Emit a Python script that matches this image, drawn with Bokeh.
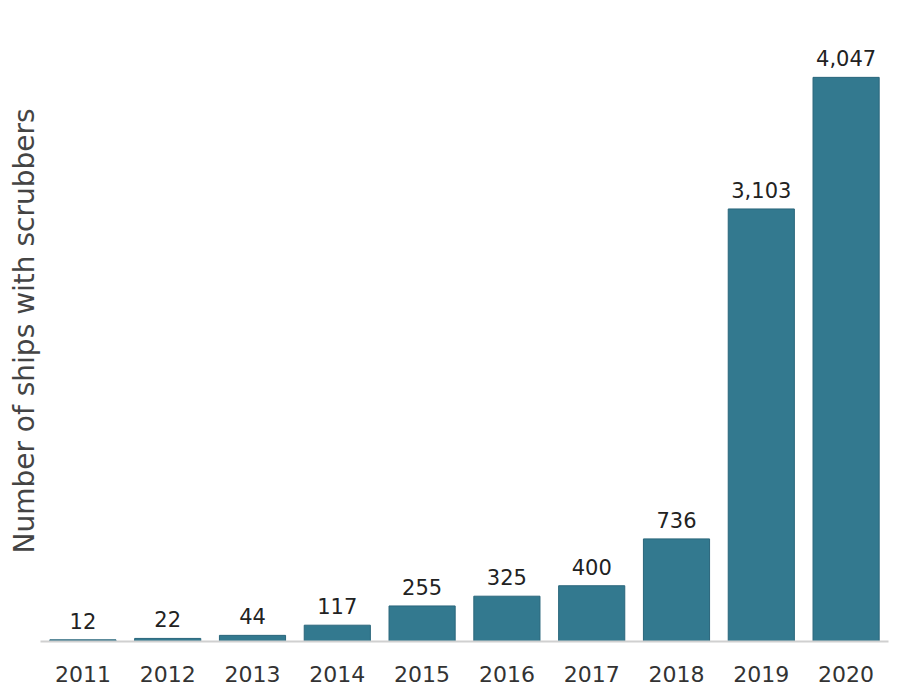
from bokeh.plotting import figure
from bokeh.models import ColumnDataSource, Range1d, FixedTicker
from bokeh.core.properties import value
from bokeh.embed import file_html
from bokeh.resources import INLINE

years = ["2011", "2012", "2013", "2014", "2015", "2016", "2017", "2018", "2019", "2020"]
ships = [12, 22, 44, 117, 255, 325, 400, 736, 3103, 4047]
labels = [f"{v:,}" for v in ships]

FONT = "DejaVu Sans"

src = ColumnDataSource(dict(x=years, y=ships, lab=labels))

p = figure(x_range=years, y_range=Range1d(0, 4455), width=900, height=700,
           output_backend="svg", toolbar_location=None,
           min_border_left=40, min_border_right=12, min_border_top=20, min_border_bottom=59)
p.x_range.range_padding = 0
p.vbar(x="x", top="y", width=0.78, source=src, fill_color="#33798f",
       line_color="#2a667b", line_width=1)
p.text(x="x", y="y", text="lab", source=src, text_align="center", text_baseline="bottom",
       y_offset=-11, text_font=value(FONT), text_font_size="21px", text_color="#222222")

p.outline_line_color = None
p.grid.visible = False
p.background_fill_color = "white"

xa = p.xaxis[0]
xa.axis_line_color = "#d0d0d0"
xa.axis_line_width = 2
xa.major_tick_line_color = None
xa.minor_tick_line_color = None
xa.major_label_text_font = FONT
xa.major_label_text_font_size = "22px"
xa.major_label_text_color = "#333333"
xa.major_label_standoff = 18

ya = p.yaxis[0]
ya.ticker = FixedTicker(ticks=[])
ya.axis_line_color = None
ya.major_tick_line_color = None
ya.minor_tick_line_color = None
ya.major_label_standoff = 0
ya.axis_label = "Number of ships with scrubbers"
ya.axis_label_text_font = FONT
ya.axis_label_text_font_style = "normal"
ya.axis_label_text_font_size = "28px"
ya.axis_label_text_color = "#444444"
ya.axis_label_standoff = 0

open("out.html", "w").write(file_html(p, INLINE))
